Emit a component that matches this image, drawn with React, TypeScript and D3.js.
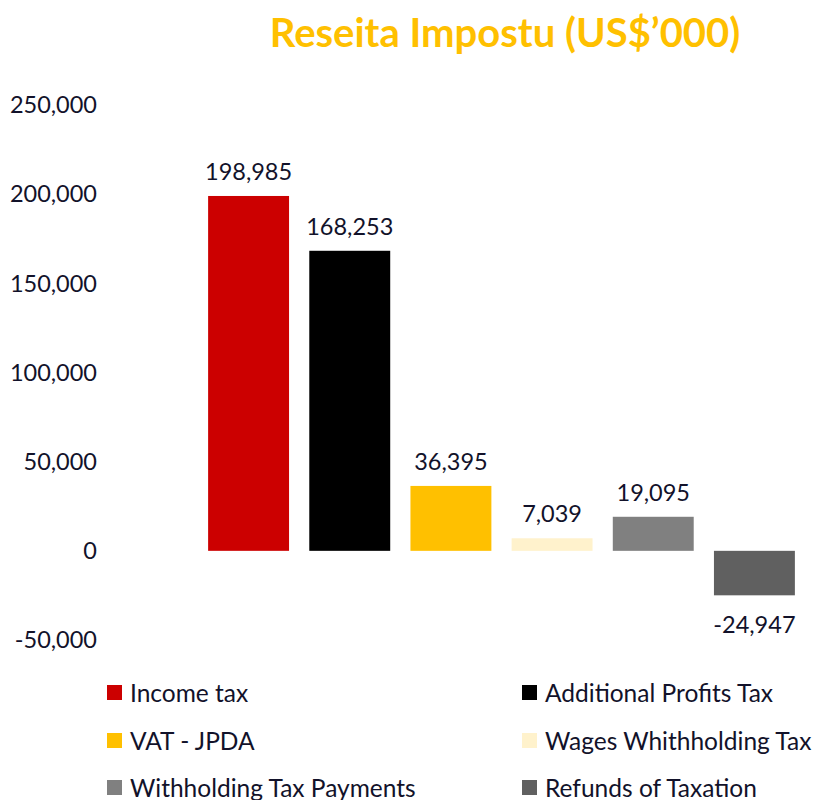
import React from 'react';
import * as d3 from 'd3';

const categories = [
  'Income tax',
  'Additional Profits Tax',
  'VAT - JPDA',
  'Wages Whithholding Tax',
  'Withholding Tax Payments',
  'Refunds of Taxation',
];
const values = [198985, 168253, 36395, 7039, 19095, -24947];
const colors = ['#CC0000', '#000000', '#FFC000', '#FFF2CC', '#808080', '#606060'];
const yTicks = [-50000, 0, 50000, 100000, 150000, 200000, 250000];

const WIDTH = 816;
const HEIGHT = 800;
const FONT = 'Lato, "Open Sans", sans-serif';
const TEXT = '#12122a';

const locale = d3.formatLocale({ decimal: '.', thousands: ',', grouping: [3], currency: ['$', ''], minus: '-' });
const fmt = locale.format(',');

export default function App() {
  const x = d3.scaleBand<string>()
    .domain(categories)
    .range([198, 805])
    .paddingInner(0.2)
    .paddingOuter(0.1);

  const y = d3.scaleLinear().domain([-50000, 250000]).range([640, 105]);

  const legendCols = [107, 522];
  const legendRows = [693, 741, 788];

  return (
    <svg
      width={WIDTH}
      height={HEIGHT}
      style={{ position: 'absolute', left: 0, top: 0, background: '#fff' }}
      fontFamily={FONT}
    >
      <text x={505} y={47} textAnchor="middle" fontSize={40} fontWeight="bold" fill="#FFC000">
        Reseita Impostu (US$’000)
      </text>

      {/* y axis labels */}
      {yTicks.map(t => (
        <text key={t} x={97} y={y(t)} dy="0.35em" textAnchor="end" fontSize={23.5} fill={TEXT}>
          {fmt(t)}
        </text>
      ))}

      {/* bars */}
      {categories.map((c, i) => {
        const v = values[i];
        const top = y(Math.max(0, v));
        const bottom = y(Math.min(0, v));
        return (
          <g key={c}>
            <rect x={x(c)} y={top} width={x.bandwidth()} height={bottom - top} fill={colors[i]} />
            <text
              x={(x(c) || 0) + x.bandwidth() / 2}
              y={v >= 0 ? top - 16 : bottom + 38}
              textAnchor="middle"
              fontSize={23.5}
              fill={TEXT}
            >
              {fmt(v)}
            </text>
          </g>
        );
      })}

      {/* legend */}
      {categories.map((c, i) => {
        const lx = legendCols[i % 2];
        const ly = legendRows[Math.floor(i / 2)];
        return (
          <g key={c}>
            <rect x={lx} y={ly - 8} width={15} height={15} fill={colors[i]} />
            <text x={lx + 23} y={ly} dy="0.35em" fontSize={24.5} fill={TEXT}>
              {c}
            </text>
          </g>
        );
      })}
    </svg>
  );
}
